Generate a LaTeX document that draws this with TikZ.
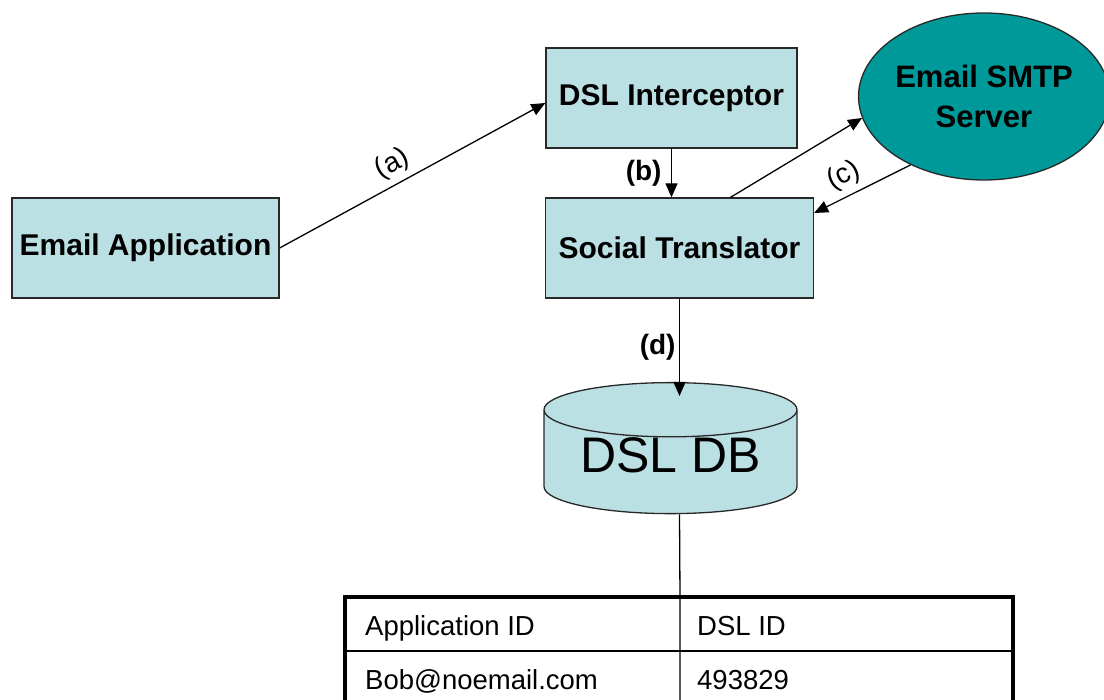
\documentclass[tikz,border=0pt]{standalone}
\usepackage{fontspec}
\setmainfont{Liberation Sans}
\usetikzlibrary{arrows.meta,shapes.geometric}
\definecolor{boxfill}{RGB}{187,224,227}
\definecolor{smtpfill}{RGB}{0,153,153}
\definecolor{edge}{RGB}{40,40,40}

\begin{document}
\begin{tikzpicture}[x=1pt,y=-1pt,
    comp/.style={draw=edge, line width=1.3pt, fill=boxfill, inner sep=0pt,
      minimum height=100pt, font=\fontsize{30}{36}\selectfont\bfseries},
    flow/.style={line width=1.3pt, -{Triangle[length=14pt,width=12pt]}},
    tag/.style={font=\fontsize{28}{32}\selectfont, inner sep=6pt},
    boldtag/.style={font=\fontsize{28}{32}\selectfont\bfseries},
    cell/.style={anchor=base west, inner sep=0pt, font=\fontsize{27.5}{30}\selectfont}]
  \useasboundingbox (0,0) rectangle (1104,700);

  % components
  \node[comp, minimum width=267pt] (app) at (145.5,248) {Email Application};
  \node[comp, minimum width=251pt] (icpt) at (671.5,98) {DSL Interceptor};
  \node[comp, minimum width=268pt] (trans) at (679.5,248) {Social Translator};
  \node[ellipse, draw=edge, line width=1.3pt, fill=smtpfill, inner sep=0pt,
        minimum width=242pt, minimum height=167pt, align=center,
        font=\fontsize{31}{40}\selectfont\bfseries] (smtp) at (984,96.5) {Email SMTP\\Server};

  % database
  \node[cylinder, shape border rotate=90, draw=edge, line width=1.3pt, fill=boxfill,
        minimum width=253pt, minimum height=131pt, aspect=0.3, inner sep=0pt,
        text depth=14pt, font=\fontsize{50}{56}\selectfont] (db) at (670.5,462) {DSL DB};

  % mapping table
  \coordinate (tabtop) at (680,597);
  \draw[line width=1.3pt] (trans.south |- db.bottom) -- (tabtop) -- (680,705);
  \draw[line width=1.3pt] (345,651) -- (1013,651);
  \draw[line width=4pt] (345,597) rectangle (1013,705);
  \node[cell] (appid) at (365,635) {Application ID};
  \node[cell] (dslid) at (697,635) {DSL ID};
  \node[cell] (bob) at (365,689) {Bob@noemail.com};
  \node[cell] (num) at (697,689) {493829};

  % message flow
  \draw[flow] (app.east) -- node[tag, sloped, above, pos=.46] {(a)} ([yshift=-5pt]icpt.west);
  \draw[flow] (icpt.south) -- node[boldtag, left, xshift=-6pt] {(b)} (icpt.south |- trans.north);
  \draw[flow] ([xshift=51pt]trans.north) -- (smtp.190);
  \draw[flow] (smtp.223) -- node[tag, sloped, above, pos=.6] {(c)} ([yshift=35pt]trans.east);
  \draw[flow] (trans.south) -- node[boldtag, left] {(d)} ([yshift=-14pt]trans.south |- db.top);
\end{tikzpicture}
\end{document}
